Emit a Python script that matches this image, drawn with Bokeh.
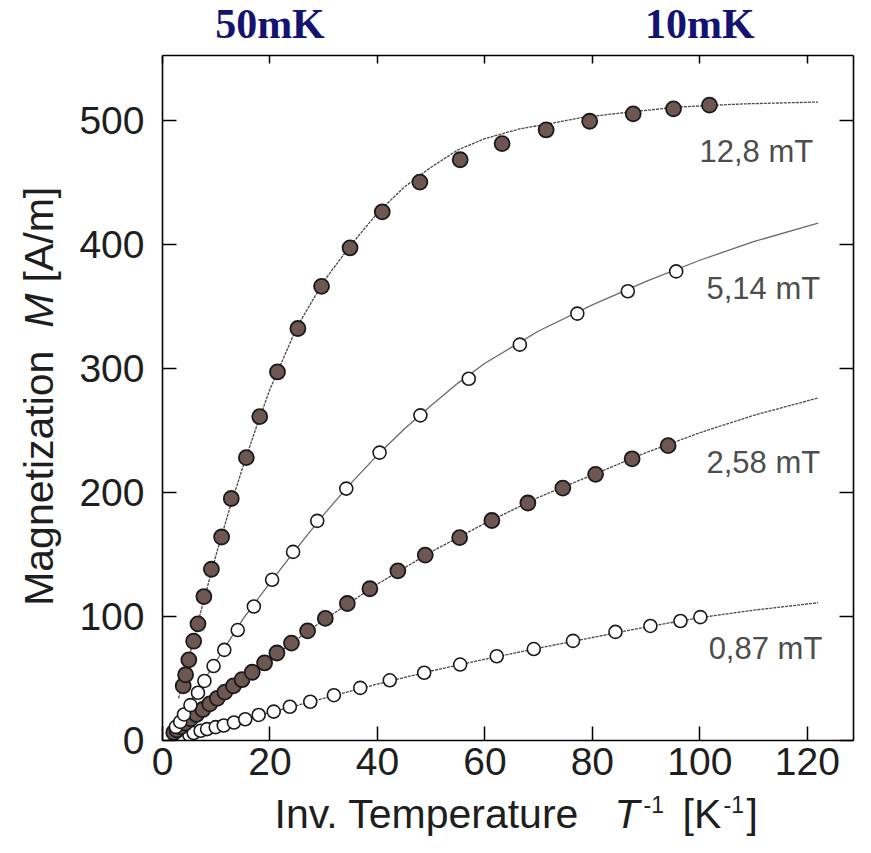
import math
from bokeh.plotting import figure
from bokeh.models import Range1d, LinearAxis, Label, FixedTicker
from bokeh.layouts import column, row
from bokeh.core.properties import value
from bokeh.embed import file_html
from bokeh.resources import INLINE

# ---------------- data ----------------
field_labels = ["12,8 mT", "5,14 mT", "2,58 mT", "0,87 mT"]
label_x = [121.1, 122.4, 122.4, 122.8]
label_y = [474.9, 364.5, 224.0, 74.1]

x_ticks = [0, 20, 40, 60, 80, 100, 120]
y_ticks = [0, 100, 200, 300, 400, 500]

top_temps_mK = [50, 10]
top_temp_labels = ["50mK", "10mK"]

# 12,8 mT (filled)
b128_x = [3.85, 4.3, 4.9, 5.8, 6.6, 7.7, 9.1, 11.0, 12.8, 15.6, 18.1, 21.4, 25.2, 29.6,
          34.9, 40.9, 47.9, 55.4, 63.2, 71.4, 79.5, 87.6, 95.1, 101.8]
b128_y = [44, 53, 65, 80, 94, 116, 138, 164, 195, 228, 261, 297, 332, 366,
          397, 426, 450, 468, 481, 492, 499, 505, 509, 512]
# 5,14 mT (open)
b514_x = [2.5, 3.3, 4.0, 5.2, 6.6, 7.8, 9.5, 11.5, 14.0, 17.0, 20.4, 24.3, 28.8, 34.2,
          40.4, 48.0, 57.0, 66.5, 77.2, 86.6, 95.6]
b514_y = [11, 15, 21, 28.5, 38.5, 48, 60, 73, 89, 108, 129.5, 152, 177, 203,
          232, 262, 291.5, 319, 344, 362, 378]
# 2,58 mT (filled)
b258_x = [2.1, 2.7, 3.4, 4.2, 5.2, 6.3, 7.5, 8.8, 10.2, 11.6, 13.2, 14.8, 16.7, 19.0,
          21.3, 24.0, 27.0, 30.3, 34.4, 38.6, 43.8, 48.9, 55.3, 61.3, 68.0, 74.5, 80.6,
          87.4, 94.1]
b258_y = [6.5, 8.5, 11, 14, 17.5, 21, 25, 29.5, 34, 39, 44, 49, 55, 62.5,
          70.5, 78.5, 88.3, 98.4, 110.4, 122.3, 136.7, 149.4, 163.5, 177.3, 191.4, 203.4,
          214.5, 227, 237.6]
# 0,87 mT (open)
b087_x = [2.8, 3.8, 5.0, 5.8, 7.1, 8.3, 9.9, 11.4, 13.3, 15.4, 17.9, 20.7, 23.7, 27.5,
          31.9, 36.8, 42.3, 48.7, 55.4, 62.2, 69.1, 76.4, 84.3, 90.8, 96.4, 100.1]
b087_y = [2.5, 3.5, 4.5, 6, 7.8, 9.2, 10.8, 12.1, 14.5, 17.1, 20.6, 23.3, 27.2, 31.2,
          36.5, 42.4, 48.5, 54.6, 61.2, 67.9, 73.7, 80.3, 87.5, 92.3, 96.3, 99.4]

# fitted curves
l128_x = [3, 5, 7.5, 10, 12.5, 15, 17.5, 20, 25, 30, 35, 40, 45, 50, 55, 60, 66.6, 72,
          78, 86, 96, 108, 122]
l128_y = [34, 68, 110, 150, 187, 221, 253, 283, 333, 370, 399, 425, 446, 462, 476, 485,
          493, 497, 502, 506, 510.5, 513, 514.5]
l514_x = [2, 5, 10, 15, 20, 25, 30, 35, 40, 45, 50, 55, 60, 70, 80, 90, 100, 110, 122]
l514_y = [10, 30, 64, 98, 127, 155, 182, 207, 230, 251, 270, 288, 304, 330, 351, 370,
          387, 402, 417]
l258_x = [1, 10, 20, 30, 40, 50, 60, 70, 80, 90, 100, 110, 122]
l258_y = [3, 33, 66, 97, 126, 152, 175, 196, 214, 232, 248, 262, 276]
l087_x = [1, 10, 20, 30, 40, 50, 60, 70, 80, 90, 100, 110, 122]
l087_y = [1, 11, 22.5, 34, 45.5, 56, 65.5, 74.5, 83, 91.5, 99, 105, 111]

# ---------------- layout / styling ----------------
FONT = "Liberation Sans"
FILL = "#6e5752"
EDGE = "#1a1a1a"
LINE = "#4a4a4a"
TEXT = "#1e1e1e"

W_TOTAL = 855
TOP_H = 53
BOT_H = 46
LEFT_W = 66
FRAME_LEFT = 162
BORDER_R = 2
MAIN_TOP = 2
MAIN_BOTTOM = 51
FRAME_H = 685
MAIN_H = MAIN_TOP + FRAME_H + MAIN_BOTTOM
X_MAX = 128.6
Y_MAX = 552


def blank(width, height, **kw):
    f = figure(width=width, height=height, output_backend="svg", toolbar_location=None,
               title=None, x_axis_location=None, y_axis_location=None, **kw)
    f.grid.visible = False
    f.outline_line_color = None
    f.background_fill_color = "white"
    f.border_fill_color = "white"
    return f


# ---- main plot ----
p = figure(width=W_TOTAL - LEFT_W, height=MAIN_H, output_backend="svg",
           toolbar_location=None, title=None,
           x_range=Range1d(0, X_MAX), y_range=Range1d(0, Y_MAX),
           min_border_left=FRAME_LEFT - LEFT_W, min_border_right=BORDER_R,
           min_border_top=MAIN_TOP, min_border_bottom=MAIN_BOTTOM)
p.grid.visible = False
p.outline_line_color = None
p.background_fill_color = "white"
p.border_fill_color = "white"

xb = p.below[0]
yl = p.left[0]
xb.ticker = FixedTicker(ticks=x_ticks)
yl.ticker = FixedTicker(ticks=y_ticks)

top_ax = LinearAxis(ticker=FixedTicker(ticks=x_ticks))
right_ax = LinearAxis(ticker=FixedTicker(ticks=y_ticks))
p.add_layout(top_ax, "above")
p.add_layout(right_ax, "right")

for ax in [xb, yl, top_ax, right_ax]:
    ax.axis_line_color = "black"
    ax.axis_line_width = 1.6
    ax.major_tick_line_color = "black"
    ax.major_tick_line_width = 1.5
    ax.minor_tick_line_color = None
    ax.major_tick_out = 0
    ax.major_tick_in = 14
    ax.major_label_text_font = FONT
    ax.major_label_text_font_size = "39px"
    ax.major_label_text_color = TEXT

top_ax.major_tick_in = 8
for ax in [top_ax, right_ax]:
    ax.major_label_text_font_size = "0px"
    ax.major_label_standoff = 0
    ax.major_label_text_alpha = 0

xb.major_label_standoff = 7
yl.major_label_standoff = 18

for lx, ly, dash, col in [(l128_x, l128_y, "3 1", LINE), (l514_x, l514_y, "solid", "#6a6a6a"),
                          (l258_x, l258_y, "3 1", LINE), (l087_x, l087_y, "3 1", LINE)]:
    p.line(lx, ly, line_color=col, line_width=1.3, line_dash=dash)

p.scatter(b087_x, b087_y, size=13, fill_color="white", line_color=EDGE, line_width=1.6)
p.scatter(b258_x, b258_y, size=15, fill_color=FILL, line_color=EDGE, line_width=1.8)
p.scatter(b514_x, b514_y, size=13, fill_color="white", line_color=EDGE, line_width=1.6)
p.scatter(b128_x, b128_y, size=15, fill_color=FILL, line_color=EDGE, line_width=1.8)

# curve labels (y = vertical centre of the capitals)
for t, lx, ly in zip(field_labels, label_x, label_y):
    p.add_layout(Label(x=lx, y=ly, text=t, text_align="right", text_baseline="alphabetic",
                       text_font=FONT, text_font_size="31px", text_color="#4d4d4d"))

# ---- top strip: temperature labels on the same x scale ----
top = blank(W_TOTAL, TOP_H, x_range=Range1d(0, X_MAX), y_range=Range1d(0, TOP_H),
            min_border_left=FRAME_LEFT, min_border_right=BORDER_R,
            min_border_top=0, min_border_bottom=0)
top.text(x=[1000.0 / T for T in top_temps_mK], y=[29.5, 29.5], text=top_temp_labels,
         text_align="center", text_baseline="alphabetic",
         text_font=value("Liberation Serif"), text_font_style=value("bold"),
         text_font_size=value("42px"), text_color="#141470")

# ---- character widths (Arial/Liberation metrics) for composing mixed-style labels ----
AW = {' ': 0.278, 'I': 0.278, 'n': 0.556, 'v': 0.5, '.': 0.278, 'T': 0.611, 'e': 0.556,
      'm': 0.833, 'p': 0.556, 'r': 0.333, 'a': 0.556, 't': 0.278, 'u': 0.556, '[': 0.278,
      'K': 0.667, ']': 0.278, '-': 0.333, '1': 0.556, 'M': 0.833, 'g': 0.556, 'i': 0.222,
      'z': 0.5, 'o': 0.556, 'A': 0.667, '/': 0.278}


def tw(s, fs):
    return sum(AW[c] for c in s) * fs


# ---- left strip: y-axis label (same y scale as the main plot) ----
left = blank(LEFT_W, MAIN_H, x_range=Range1d(0, LEFT_W), y_range=Range1d(0, Y_MAX),
             min_border_left=0, min_border_right=0,
             min_border_top=MAIN_TOP, min_border_bottom=MAIN_BOTTOM)
YFS = 41
px_per_unit = FRAME_H / Y_MAX
y_pieces = [("Magnetization", "normal", 0), ("M", "italic", 23), ("[A/m]", "normal", 11)]
off = 0
for text, style, gap in y_pieces:
    off += gap
    left.text(x=[38], y=[108.5 + off / px_per_unit], text=[text], angle=math.pi / 2,
              text_align="left", text_baseline="alphabetic", text_font=value(FONT),
              text_font_style=value(style), text_font_size=value(f"{YFS}px"),
              text_color=TEXT)
    off += tw(text, YFS)

# ---- bottom strip: x-axis label (x in page pixels) ----
bot = blank(W_TOTAL, BOT_H, x_range=Range1d(FRAME_LEFT, W_TOTAL - BORDER_R),
            y_range=Range1d(0, BOT_H),
            min_border_left=FRAME_LEFT, min_border_right=BORDER_R,
            min_border_top=0, min_border_bottom=0)
XFS = 41
SUP = 23
# (text, style, size, x start in px, y of capital centre)
x_pieces = [("Inv. Temperature", "normal", XFS, 274, 23.8), ("T", "italic", XFS, 614, 23.8),
            ("-1", "normal", SUP, 643, 33.0), ("[K", "normal", XFS, 682, 23.8),
            ("-1", "normal", SUP, 723, 33.0), ("]", "normal", XFS, 746, 23.8)]
for text, style, fs, xs, yc in x_pieces:
    bot.text(x=[xs], y=[yc], text=[text], text_align="left",
             text_baseline="alphabetic", text_font=value(FONT),
             text_font_style=value(style), text_font_size=value(f"{fs}px"),
             text_color=TEXT)

layout = column(top, row(left, p), bot)
open("out.html", "w").write(file_html(layout, INLINE))
